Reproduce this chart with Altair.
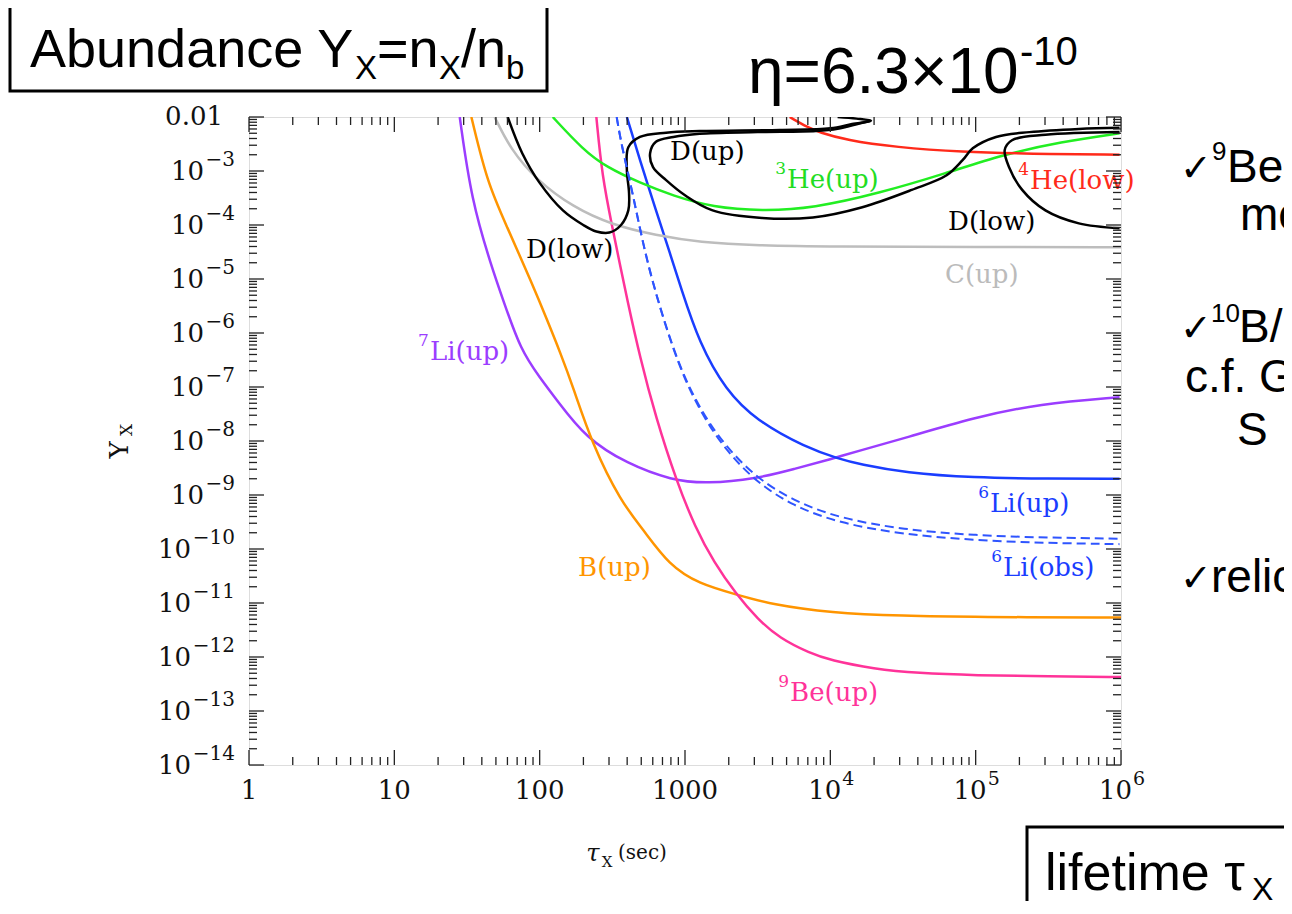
import altair as alt
import pandas as pd

W, H = 872, 648
SERIF = "DejaVu Serif"
SANS = "Liberation Sans"

# ---------- curves: (log10 tau_X [s], log10 Y_X) ----------
li7_lx = [1.45, 1.53, 1.67, 1.75, 1.87, 2.0, 2.12, 2.32, 2.6, 2.91, 3.15, 3.49, 3.75, 4.01, 4.2, 4.52, 4.98, 5.44, 5.99]
li7_ly = [-2.0, -3.54, -4.78, -5.4, -6.32, -6.82, -7.25, -7.95, -8.42, -8.73, -8.79, -8.70, -8.52, -8.33, -8.18, -7.94, -7.57, -7.31, -7.19]

b_lx = [1.53, 1.64, 1.77, 1.95, 2.05, 2.14, 2.23, 2.36, 2.56, 2.71, 2.89, 3.1, 3.35, 3.6, 4.0, 4.5, 5.0, 6.0]
b_ly = [-2.0, -3.22, -4.0, -5.1, -5.75, -6.35, -7.0, -8.05, -9.13, -9.63, -10.3, -10.65, -10.84, -11.03, -11.18, -11.24, -11.26, -11.27]

be9_lx = [2.39, 2.43, 2.5, 2.55, 2.6, 2.69, 2.8, 2.94, 3.07, 3.2, 3.35, 3.5, 3.65, 3.86, 4.0, 4.3, 4.6, 5.0, 5.5, 6.0]
be9_ly = [-2.0, -3.1, -4.04, -4.7, -5.35, -6.45, -7.57, -8.73, -9.6, -10.25, -10.83, -11.3, -11.65, -11.93, -12.06, -12.22, -12.3, -12.34, -12.36, -12.37]

li6_lx = [2.6, 2.69, 2.8, 2.9, 2.97, 3.1, 3.28, 3.49, 3.83, 4.06, 4.2, 4.52, 4.98, 5.5, 5.99]
li6_ly = [-2.0, -2.8, -3.73, -4.55, -5.15, -6.2, -7.06, -7.62, -8.12, -8.33, -8.43, -8.59, -8.68, -8.70, -8.70]

li6obs_a_lx = [2.53, 2.56, 2.64, 2.71, 2.8, 2.96, 3.12, 3.28, 3.49, 3.74, 4.06, 4.5, 5.0, 5.5, 5.99]
li6obs_a_ly = [-2.0, -2.48, -3.41, -4.34, -5.3, -6.64, -7.49, -8.1, -8.68, -9.1, -9.43, -9.64, -9.75, -9.79, -9.81]
li6obs_b_lx = [2.53, 2.56, 2.64, 2.71, 2.8, 2.96, 3.12, 3.28, 3.49, 3.74, 4.06, 4.5, 5.0, 5.5, 5.99]
li6obs_b_ly = [-2.0, -2.48, -3.41, -4.34, -5.3, -6.66, -7.53, -8.17, -8.76, -9.2, -9.52, -9.73, -9.84, -9.89, -9.91]

c_lx = [1.69, 1.8, 1.98, 2.23, 2.5, 2.8, 3.1, 3.5, 4.0, 5.0, 6.0]
c_ly = [-2.0, -2.6, -3.17, -3.67, -4.0, -4.19, -4.32, -4.38, -4.4, -4.41, -4.41]

he3_lx = [2.09, 2.3, 2.46, 2.69, 2.92, 3.19, 3.53, 3.88, 4.34, 4.8, 5.18, 5.59, 5.99]
he3_ly = [-2.0, -2.61, -2.93, -3.22, -3.46, -3.67, -3.74, -3.69, -3.41, -3.04, -2.7, -2.46, -2.3]

he4_lx = [3.72, 3.85, 3.92, 4.11, 4.45, 4.91, 5.37, 5.99]
he4_ly = [-2.0, -2.2, -2.28, -2.43, -2.56, -2.65, -2.68, -2.7]

# deuterium contours
d1_lx = [1.78, 1.88, 2.0, 2.16, 2.3, 2.39, 2.48, 2.56, 2.61, 2.615, 2.6, 2.61, 2.69, 2.87, 3.1, 3.65, 4.0, 4.15, 4.28, 4.18, 4.05]
d1_ly = [-2.0, -2.67, -3.22, -3.73, -4.0, -4.12, -4.14, -4.0, -3.73, -3.41, -2.98, -2.56, -2.37, -2.29, -2.26, -2.24, -2.21, -2.13, -2.07, -2.03, -2.0]
d2_lx = [5.99, 5.71, 5.37, 5.14, 4.98, 4.91, 4.8, 4.56, 4.22, 3.88, 3.53, 3.19, 3.0, 2.87, 2.78, 2.76, 2.8, 2.92, 3.1, 3.5, 3.9, 4.05, 4.2, 4.28]
d2_ly = [-2.2, -2.22, -2.28, -2.37, -2.58, -2.8, -3.08, -3.35, -3.67, -3.86, -3.87, -3.73, -3.45, -3.17, -2.93, -2.67, -2.46, -2.37, -2.31, -2.28, -2.26, -2.22, -2.12, -2.07]
d3_lx = [5.99, 5.48, 5.25, 5.2, 5.23, 5.32, 5.48, 5.71, 5.99]
d3_ly = [-2.28, -2.33, -2.43, -2.61, -2.93, -3.35, -3.73, -3.97, -4.06]

smooth_series = [
    ("Li7", li7_lx, li7_ly, "#9b3dff"),
    ("B", b_lx, b_ly, "#ff9500"),
    ("Be9", be9_lx, be9_ly, "#ff3399"),
    ("Li6", li6_lx, li6_ly, "#1a3dff"),
    ("C", c_lx, c_ly, "#bdbdbd"),
    ("He3", he3_lx, he3_ly, "#22ee22"),
    ("He4", he4_lx, he4_ly, "#ff2a1a"),
]
contour_series = [
    ("D1", d1_lx, d1_ly, "#000000"),
    ("D2", d2_lx, d2_ly, "#000000"),
    ("D3", d3_lx, d3_ly, "#000000"),
]
dashed_series = [
    ("Li6obsA", li6obs_a_lx, li6obs_a_ly, "#2f55ff"),
    ("Li6obsB", li6obs_b_lx, li6obs_b_ly, "#2f55ff"),
]


def table(series):
    rows = []
    for name, lx, ly, col in series:
        for i, (a, b) in enumerate(zip(lx, ly)):
            rows.append({"series": name, "idx": i, "x": 10 ** a, "y": 10 ** b, "c": col})
    return pd.DataFrame(rows)


xs = alt.Scale(type="log", domain=[1, 1e6], nice=False)
ys = alt.Scale(type="log", domain=[1e-14, 1e-2], nice=False)
X = alt.X("x:Q", scale=xs, axis=None)
Y = alt.Y("y:Q", scale=ys, axis=None)


def curve_layer(series, interp, dash=None, sw=2.5):
    kw = dict(clip=True, strokeWidth=sw, interpolate=interp)
    if dash:
        kw["strokeDash"] = dash
    return alt.Chart(table(series)).mark_line(**kw).encode(
        x=X, y=Y,
        color=alt.Color("c:N", scale=None),
        detail="series:N",
        order="idx:Q",
    )


layers = [
    curve_layer(smooth_series, "basis"),
    curve_layer(contour_series, "catmull-rom"),
    curve_layer(dashed_series, "basis", dash=[9, 5], sw=2),
]

# ---------- curve labels ----------
lab_text = ["D(up)", "He(up)", "He(low)", "D(low)", "D(low)", "C(up)", "Li(up)", "Li(up)", "Li(obs)", "B(up)", "Be(up)"]
lab_sup = ["", "3", "4", "", "", "", "7", "6", "6", "", "9"]
lab_lx = [2.897, 3.702, 5.374, 4.810, 1.906, 4.789, 1.245, 5.099, 5.188, 2.264, 3.723]
lab_ly = [-2.648, -3.167, -3.185, -3.944, -4.463, -4.926, -6.352, -9.167, -10.352, -10.352, -12.667]
lab_col = ["#000000", "#22dd22", "#ff2a1a", "#000000", "#000000", "#bbbbbb", "#9b3dff", "#1a3dff", "#1a3dff", "#ff9500", "#ff3399"]
labels = pd.DataFrame({"t": lab_text, "s": lab_sup, "x": [10 ** v for v in lab_lx],
                       "y": [10 ** v for v in lab_ly], "c": lab_col})
layers.append(alt.Chart(labels).mark_text(font=SERIF, fontSize=26, align="left", baseline="middle").encode(
    x=X, y=Y, text="t:N", color=alt.Color("c:N", scale=None)))
layers.append(alt.Chart(labels).mark_text(font=SERIF, fontSize=17, align="right", baseline="middle", dx=-1, dy=-11).encode(
    x=X, y=Y, text="s:N", color=alt.Color("c:N", scale=None)))

# ---------- frame ticks (inward) ----------
major_x = [1, 10, 100, 1000, 1e4, 1e5, 1e6]
minor_x = [k * 10 ** n for n in range(0, 6) for k in range(2, 10)]
major_y = [10.0 ** e for e in range(-14, -1)]
minor_y = [k * 10.0 ** e for e in range(-14, -2) for k in range(2, 10)]
for vals, L in [(major_x, 15), (minor_x, 8)]:
    d = pd.DataFrame({"x": vals})
    layers.append(alt.Chart(d).mark_rule(color="#222", strokeWidth=1.3).encode(x=X, y=alt.value(H), y2=alt.value(H - L)))
    layers.append(alt.Chart(d).mark_rule(color="#222", strokeWidth=1.3).encode(x=X, y=alt.value(0), y2=alt.value(L)))
for vals, L in [(major_y, 15), (minor_y, 8)]:
    d = pd.DataFrame({"y": vals})
    layers.append(alt.Chart(d).mark_rule(color="#222", strokeWidth=1.3).encode(y=Y, x=alt.value(0), x2=alt.value(L)))
    layers.append(alt.Chart(d).mark_rule(color="#222", strokeWidth=1.3).encode(y=Y, x=alt.value(W), x2=alt.value(W - L)))

# ---------- tick labels ----------
yexp = list(range(-3, -15, -1))
ylab = pd.DataFrame({"e": yexp, "y": [10.0 ** e for e in yexp], "s": ["\u2212" + str(-e) for e in yexp]})
tk = dict(font=SERIF, color="#111")
layers.append(alt.Chart(ylab).mark_text(fontSize=20, align="right", baseline="middle", dy=-11, **tk).encode(
    y=Y, x=alt.value(-14), text="s:N"))
layers.append(alt.Chart(ylab).transform_filter("datum.e >= -9").mark_text(fontSize=26, align="right", baseline="middle", dy=1, **tk).encode(
    y=Y, x=alt.value(-45), text=alt.value("10")))
layers.append(alt.Chart(ylab).transform_filter("datum.e < -9").mark_text(fontSize=26, align="right", baseline="middle", dy=1, **tk).encode(
    y=Y, x=alt.value(-58), text=alt.value("10")))
layers.append(alt.Chart(pd.DataFrame({"y": [0.01], "t": ["0.01"]})).mark_text(fontSize=26, align="right", baseline="middle", **tk).encode(
    y=Y, x=alt.value(-26), text="t:N"))

xplain = pd.DataFrame({"x": [1, 10, 100, 1000], "t": ["1", "10", "100", "1000"]})
layers.append(alt.Chart(xplain).mark_text(fontSize=26, align="center", baseline="middle", **tk).encode(
    x=X, y=alt.value(674), text="t:N"))
xpow = pd.DataFrame({"x": [1e4, 1e5, 1e6], "s": ["4", "5", "6"]})
layers.append(alt.Chart(xpow).mark_text(fontSize=26, align="right", baseline="middle", dx=11, **tk).encode(
    x=X, y=alt.value(674), text=alt.value("10")))
layers.append(alt.Chart(xpow).mark_text(fontSize=19, align="left", baseline="middle", dx=12, **tk).encode(
    x=X, y=alt.value(662), text="s:N"))

# ---------- axis titles ----------
one = pd.DataFrame({"a": [0]})


def txt(t, x, y, size, font=SERIF, align="left", baseline="middle", angle=0, color="#111", style="normal"):
    kw = dict(font=font, fontSize=size, align=align, baseline=baseline, color=color, fontStyle=style)
    if angle:
        kw["angle"] = angle
    return alt.Chart(one).mark_text(**kw).encode(x=alt.value(x), y=alt.value(y), text=alt.value(t))


layers += [
    txt("Y", -129, 333, 26, align="center", angle=270),
    txt("X", -122, 313, 17, align="center", angle=270),
    txt("\u03c4", 344, 737, 24, align="center", style="italic"),
    txt("X", 358, 745, 15, align="center"),
    txt("(sec)", 369, 736, 20),
]

# ---------- slide annotations ----------
def box(x1, y1, x2, y2):
    return alt.Chart(one).mark_rect(filled=False, stroke="black", strokeWidth=3).encode(
        x=alt.value(x1), x2=alt.value(x2), y=alt.value(y1), y2=alt.value(y2))


BK = dict(font=SANS, baseline="alphabetic", color="black")
layers += [
    box(-239, -112, 298, -26),
    txt("Abundance Y", -219, -50, 54, **BK),
    txt("X", 106, -38, 33, **BK),
    txt("=n", 128, -50, 54, **BK),
    txt("X", 190, -38, 33, **BK),
    txt("/n", 212, -50, 54, **BK),
    txt("b", 257, -38, 33, **BK),
    txt("\u03b7=6.3\u00d710", 499, -24, 64, **BK),
    txt("-10", 771, -52, 40, **BK),
    box(778, 710, 1060, 788),
    txt("lifetime \u03c4", 796, 773, 52, **BK),
    txt("X", 1003, 783, 32, **BK),
    # right-hand slide text (cut off by the page edge)
    txt("\u2713", 931, 64, 38, font="DejaVu Sans", baseline="alphabetic", color="black"),
    txt("9", 963, 43, 26, **BK),
    txt("Be", 978, 65, 46, **BK),
    txt("mo", 991, 113, 46, **BK),
    txt("\u2713", 931, 224, 38, font="DejaVu Sans", baseline="alphabetic", color="black"),
    txt("10", 962, 205, 26, **BK),
    txt("B/", 990, 225, 46, **BK),
    txt("c.f. G", 936, 275, 46, **BK),
    txt("S", 988, 328, 46, **BK),
    txt("\u2713", 931, 474, 38, font="DejaVu Sans", baseline="alphabetic", color="black"),
    txt("relic", 962, 475, 46, **BK),
]

chart = alt.layer(*layers).properties(
    width=W, height=H,
    padding={"left": 241, "top": 109, "right": 163, "bottom": 136},
    autosize=alt.AutoSizeParams(type="none"),
).configure_view(stroke="#222", strokeWidth=1.6).configure(background="white")

chart.save("out.html", embed_options={"renderer": "svg", "actions": False})
